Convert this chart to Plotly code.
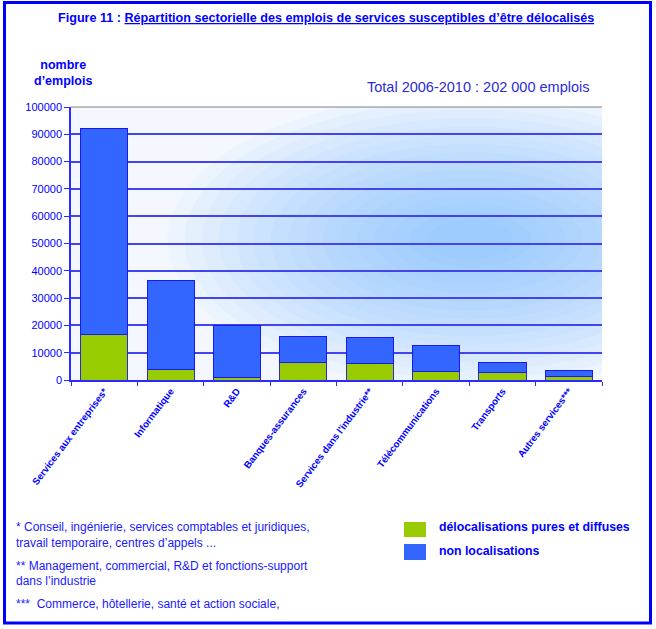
import plotly.graph_objects as go

categories = ["Services aux entreprises*", "Informatique", "R&D", "Banques-assurances",
              "Services dans l'industrie**", "Télécommunications", "Transports", "Autres services***"]
delocalisations = [16600, 3700, 900, 6500, 6000, 3000, 2800, 1200]
non_localisations = [75700, 32900, 18900, 9400, 9500, 9600, 3700, 2300]
y_ticks = [0, 10000, 20000, 30000, 40000, 50000, 60000, 70000, 80000, 90000, 100000]

W, H = 656, 629
L, R, T, B = 71, 602, 107, 380  # plot area in pixels

def px(x):
    return (x - L) / (R - L)

def py(y):
    return (B - y) / (B - T)

BLUE_TXT = "#0000ff"
FONT = "Liberation Sans"

fig = go.Figure()
fig.add_trace(go.Bar(x=categories, y=delocalisations, name="délocalisations pures et diffuses",
                     marker=dict(color="#99cc00", line=dict(color="#2b2bd0", width=1)),
                     showlegend=False))
fig.add_trace(go.Bar(x=categories, y=non_localisations, name="non localisations",
                     marker=dict(color="#3366ff", line=dict(color="#1a1aee", width=1)),
                     showlegend=False))

shapes = []
# soft radial gradient in the plot background (data refs -> clipped to plot area)
ncat = len(categories)
cxp, cyp = px(470), py(240)
n = 16
for i in range(n):
    f = i / n
    rx = 0.52 * (1 - f) + 0.05
    ry = 0.50 * (1 - f) + 0.04
    x0 = -0.5 + (cxp - rx) * ncat
    x1 = -0.5 + (cxp + rx) * ncat
    y0 = (cyp - ry) * 100000
    y1 = (cyp + ry) * 100000
    shapes.append(dict(type="circle", xref="x", yref="y", layer="below",
                       x0=x0, x1=x1, y0=y0, y1=y1,
                       fillcolor="rgba(110,175,255,0.055)", line=dict(width=0)))
# top border line of plot
shapes.append(dict(type="line", xref="paper", yref="paper", x0=0, x1=1, y0=1, y1=1,
                   line=dict(color="#808080", width=1)))
# outer frame
shapes.append(dict(type="rect", xref="paper", yref="paper",
                   x0=px(4.5), x1=px(650.5), y0=py(2.5), y1=py(623),
                   line=dict(color="#0000ff", width=3), fillcolor="rgba(0,0,0,0)"))
# legend squares
shapes.append(dict(type="rect", xref="paper", yref="paper",
                   x0=px(404), x1=px(426), y0=py(522), y1=py(537),
                   fillcolor="#99cc00", line=dict(width=0)))
shapes.append(dict(type="rect", xref="paper", yref="paper",
                   x0=px(404), x1=px(426), y0=py(544), y1=py(560),
                   fillcolor="#3366ff", line=dict(width=0)))

annotations = [
    dict(text="<b>Figure 11 : </b><b><u>Répartition sectorielle des emplois de services susceptibles d’être délocalisés</u></b>",
         x=px(56), y=py(18), xanchor="left", yanchor="middle",
         font=dict(size=12.6, color=BLUE_TXT, family=FONT)),
    dict(text="<b>nombre<br>d’emplois</b>", x=px(63), y=py(73), xanchor="center", yanchor="middle",
         font=dict(size=12.5, color=BLUE_TXT, family=FONT)),
    dict(text="Total 2006-2010 : 202 000 emplois", x=px(592), y=py(87), xanchor="right", yanchor="middle",
         font=dict(size=14.5, color="#2b2bd8", family=FONT)),
    dict(text="<b>délocalisations pures et diffuses</b>", x=px(437), y=py(527), xanchor="left", yanchor="middle",
         font=dict(size=12.3, color=BLUE_TXT, family=FONT)),
    dict(text="<b>non localisations</b>", x=px(437), y=py(551), xanchor="left", yanchor="middle",
         font=dict(size=12.3, color=BLUE_TXT, family=FONT)),
]
notes = [
    ("* Conseil, ingénierie, services comptables et juridiques,", 527),
    ("travail temporaire, centres d’appels ...", 543),
    ("** Management, commercial, R&D et fonctions-support", 566),
    ("dans l’industrie", 581),
    ("***  Commerce, hôtellerie, santé et action sociale,", 604),
]
for t, yy in notes:
    annotations.append(dict(text=t, x=px(14), y=py(yy), xanchor="left", yanchor="middle",
                            font=dict(size=12, color="#1a1aff", family=FONT)))

for a in annotations:
    a.update(xref="paper", yref="paper", showarrow=False)

fig.update_layout(
    width=W, height=H, barmode="stack", bargap=0.29,
    margin=dict(l=L, r=W - R, t=T, b=H - B),
    paper_bgcolor="white", plot_bgcolor="#f4f8fe",
    font=dict(family=FONT, color=BLUE_TXT),
    shapes=shapes, annotations=annotations,
    xaxis=dict(tickangle=-53, tickfont=dict(size=9.7, color=BLUE_TXT, family=FONT),
               range=[-0.5, ncat - 0.5],
               showline=True, linecolor="#2b2bff", linewidth=1.5,
               ticks="outside", ticklen=4, tickcolor="#2b2bff", tickson="boundaries",
               showgrid=False, fixedrange=True, tickprefix="<b>", ticksuffix="</b>"),
    yaxis=dict(range=[0, 100000], tickvals=y_ticks, ticktext=[str(v) for v in y_ticks],
               tickfont=dict(size=11, color=BLUE_TXT, family=FONT),
               showline=True, linecolor="#2b2bff", linewidth=1.5,
               ticks="outside", ticklen=5, tickcolor="#2b2bff",
               showgrid=True, gridcolor="#4444ee", gridwidth=1.5, zeroline=False,
               fixedrange=True),
)

fig.write_html("out.html", config={"displayModeBar": False},
               post_script="document.body.style.margin='0';document.body.style.padding='0';")
